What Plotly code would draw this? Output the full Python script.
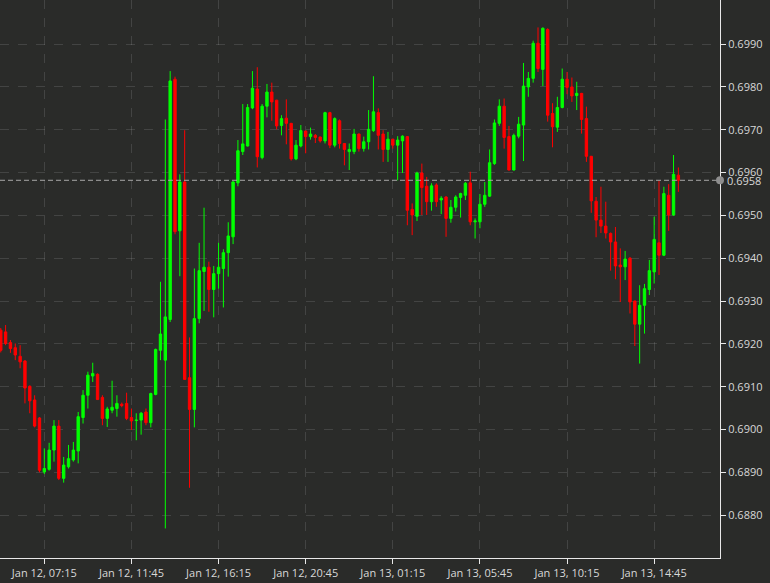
import pandas as pd
import plotly.graph_objects as go

# 15-minute candles, Jan 12 05:00 -> Jan 13 16:00
start_time = "2023-01-12 05:00"
n_candles = 141

open_ = [0.69232, 0.69228, 0.69203, 0.69191, 0.69171, 0.69160, 0.69101, 0.69069, 0.69027, 0.68901,
         0.68907, 0.68952, 0.69008, 0.68886, 0.68913, 0.68929, 0.68950, 0.69028, 0.69080, 0.69125,
         0.69129, 0.69075, 0.69026, 0.69045, 0.69049, 0.69059, 0.69061, 0.69028, 0.69021, 0.69022,
         0.69041, 0.69016, 0.69082, 0.69185, 0.69162, 0.69257, 0.69818, 0.69464, 0.69578, 0.69121,
         0.69047, 0.69259, 0.69369, 0.69379, 0.69327, 0.69364, 0.69376, 0.69413, 0.69450, 0.69576,
         0.69649, 0.69662, 0.69751, 0.69795, 0.69635, 0.69755, 0.69788, 0.69769, 0.69710, 0.69727,
         0.69715, 0.69632, 0.69662, 0.69697, 0.69684, 0.69687, 0.69683, 0.69674, 0.69740, 0.69664,
         0.69721, 0.69668, 0.69649, 0.69649, 0.69690, 0.69656, 0.69672, 0.69698, 0.69740, 0.69690,
         0.69654, 0.69678, 0.69664, 0.69674, 0.69684, 0.69514, 0.69498, 0.69599, 0.69568, 0.69532,
         0.69571, 0.69536, 0.69543, 0.69493, 0.69519, 0.69542, 0.69547, 0.69576, 0.69485, 0.69485,
         0.69526, 0.69545, 0.69621, 0.69715, 0.69755, 0.69684, 0.69606, 0.69685, 0.69711, 0.69800,
         0.69820, 0.69902, 0.69841, 0.69934, 0.69738, 0.69706, 0.69752, 0.69818, 0.69800, 0.69780,
         0.69785, 0.69726, 0.69638, 0.69533, 0.69489, 0.69475, 0.69458, 0.69438, 0.69384, 0.69380,
         0.69400, 0.69300, 0.69246, 0.69290, 0.69327, 0.69368, 0.69436, 0.69407, 0.69547, 0.69501,
         0.69594]
high = [0.69237, 0.69244, 0.69209, 0.69201, 0.69197, 0.69162, 0.69103, 0.69080, 0.69029, 0.68956,
        0.68969, 0.69022, 0.69022, 0.68936, 0.68964, 0.68971, 0.69041, 0.69092, 0.69135, 0.69156,
        0.69131, 0.69080, 0.69053, 0.69114, 0.69080, 0.69063, 0.69086, 0.69049, 0.69038, 0.69041,
        0.69049, 0.69086, 0.69189, 0.69345, 0.69724, 0.69837, 0.69824, 0.69596, 0.69699, 0.69215,
        0.69376, 0.69436, 0.69518, 0.69392, 0.69382, 0.69436, 0.69421, 0.69484, 0.69580, 0.69676,
        0.69760, 0.69760, 0.69837, 0.69846, 0.69760, 0.69807, 0.69810, 0.69770, 0.69734, 0.69771,
        0.69716, 0.69676, 0.69711, 0.69698, 0.69705, 0.69690, 0.69684, 0.69742, 0.69742, 0.69729,
        0.69724, 0.69669, 0.69668, 0.69702, 0.69691, 0.69684, 0.69746, 0.69825, 0.69750, 0.69699,
        0.69695, 0.69679, 0.69685, 0.69687, 0.69685, 0.69528, 0.69602, 0.69621, 0.69590, 0.69575,
        0.69575, 0.69545, 0.69545, 0.69536, 0.69547, 0.69553, 0.69578, 0.69602, 0.69493, 0.69550,
        0.69578, 0.69654, 0.69724, 0.69771, 0.69773, 0.69709, 0.69691, 0.69730, 0.69856, 0.69835,
        0.69908, 0.69939, 0.69939, 0.69937, 0.69762, 0.69777, 0.69843, 0.69835, 0.69822, 0.69812,
        0.69786, 0.69754, 0.69639, 0.69543, 0.69567, 0.69532, 0.69460, 0.69473, 0.69423, 0.69417,
        0.69403, 0.69301, 0.69337, 0.69340, 0.69396, 0.69497, 0.69581, 0.69567, 0.69573, 0.69641,
        0.69612]
low = [0.69180, 0.69197, 0.69179, 0.69162, 0.69143, 0.69061, 0.69038, 0.69005, 0.68900, 0.68896,
       0.68904, 0.68925, 0.68882, 0.68876, 0.68909, 0.68925, 0.68921, 0.69014, 0.69049, 0.69111,
       0.69069, 0.69010, 0.69006, 0.69038, 0.69030, 0.69052, 0.69022, 0.68999, 0.68975, 0.68988,
       0.69010, 0.69005, 0.69080, 0.69162, 0.68769, 0.69251, 0.69456, 0.69358, 0.69116, 0.68864,
       0.69005, 0.69248, 0.69277, 0.69275, 0.69262, 0.69329, 0.69285, 0.69357, 0.69433, 0.69568,
       0.69641, 0.69661, 0.69748, 0.69612, 0.69631, 0.69729, 0.69721, 0.69701, 0.69687, 0.69666,
       0.69628, 0.69629, 0.69659, 0.69645, 0.69677, 0.69669, 0.69670, 0.69668, 0.69657, 0.69659,
       0.69656, 0.69617, 0.69606, 0.69643, 0.69649, 0.69649, 0.69654, 0.69695, 0.69654, 0.69625,
       0.69625, 0.69656, 0.69582, 0.69599, 0.69477, 0.69454, 0.69487, 0.69501, 0.69501, 0.69511,
       0.69520, 0.69503, 0.69450, 0.69483, 0.69509, 0.69495, 0.69536, 0.69477, 0.69446, 0.69470,
       0.69520, 0.69543, 0.69618, 0.69709, 0.69656, 0.69605, 0.69605, 0.69680, 0.69627, 0.69777,
       0.69810, 0.69835, 0.69802, 0.69719, 0.69659, 0.69695, 0.69750, 0.69783, 0.69765, 0.69746,
       0.69691, 0.69625, 0.69506, 0.69449, 0.69459, 0.69446, 0.69371, 0.69351, 0.69298, 0.69349,
       0.69271, 0.69195, 0.69154, 0.69224, 0.69314, 0.69341, 0.69361, 0.69405, 0.69464, 0.69499,
       0.69555]
close = [0.69185, 0.69201, 0.69189, 0.69174, 0.69158, 0.69097, 0.69067, 0.69008, 0.68905, 0.68909,
         0.68952, 0.69008, 0.68886, 0.68917, 0.68932, 0.68952, 0.69030, 0.69080, 0.69127, 0.69131,
         0.69070, 0.69026, 0.69048, 0.69052, 0.69061, 0.69056, 0.69026, 0.69020, 0.69022, 0.69038,
         0.69016, 0.69084, 0.69187, 0.69223, 0.69263, 0.69814, 0.69462, 0.69578, 0.69117, 0.69047,
         0.69259, 0.69371, 0.69379, 0.69327, 0.69364, 0.69379, 0.69413, 0.69452, 0.69578, 0.69651,
         0.69667, 0.69752, 0.69797, 0.69637, 0.69755, 0.69788, 0.69765, 0.69709, 0.69726, 0.69715,
         0.69632, 0.69664, 0.69698, 0.69684, 0.69690, 0.69682, 0.69674, 0.69740, 0.69664, 0.69726,
         0.69668, 0.69654, 0.69654, 0.69690, 0.69656, 0.69672, 0.69701, 0.69742, 0.69687, 0.69654,
         0.69678, 0.69664, 0.69676, 0.69685, 0.69512, 0.69501, 0.69599, 0.69565, 0.69532, 0.69569,
         0.69532, 0.69540, 0.69493, 0.69519, 0.69543, 0.69551, 0.69575, 0.69485, 0.69487, 0.69526,
         0.69547, 0.69623, 0.69716, 0.69755, 0.69682, 0.69606, 0.69687, 0.69713, 0.69802, 0.69820,
         0.69902, 0.69843, 0.69937, 0.69734, 0.69707, 0.69752, 0.69818, 0.69799, 0.69779, 0.69785,
         0.69724, 0.69638, 0.69534, 0.69489, 0.69475, 0.69459, 0.69438, 0.69382, 0.69380, 0.69398,
         0.69298, 0.69246, 0.69290, 0.69329, 0.69371, 0.69444, 0.69407, 0.69551, 0.69501, 0.69596,
         0.69582]

last_price = 0.69582
last_label = "0.6958"

x_tick_vals = ["2023-01-12 07:15", "2023-01-12 11:45", "2023-01-12 16:15", "2023-01-12 20:45",
               "2023-01-13 01:15", "2023-01-13 05:45", "2023-01-13 10:15", "2023-01-13 14:45"]
y_tick_vals = [0.688, 0.689, 0.690, 0.691, 0.692, 0.693, 0.694, 0.695, 0.696, 0.697, 0.698, 0.699]
x_range = ["2023-01-12 04:57:40", "2023-01-13 18:09"]
y_range = [0.6870, 0.70003]

times = pd.date_range(start=start_time, periods=n_candles, freq="15min")

BG = "#2a2b29"
GRID = "rgba(255,255,255,0.12)"
AXIS = "#e8e8e8"
TXT = "#d8d8d8"
GREEN = "#00ff00"
RED = "#ff0000"

fig = go.Figure(go.Candlestick(
    x=times, open=open_, high=high, low=low, close=close,
    increasing=dict(line=dict(color=GREEN, width=1), fillcolor=GREEN),
    decreasing=dict(line=dict(color=RED, width=1), fillcolor=RED),
    whiskerwidth=0, showlegend=False, hoverinfo="skip",
))

fig.add_shape(type="line", xref="paper", x0=0, x1=1, yref="y", y0=last_price, y1=last_price,
              line=dict(color="#a8a8a8", width=1, dash="5px,3px"), layer="above")
fig.add_shape(type="circle", xref="paper", xsizemode="pixel", xanchor=1, x0=-4, x1=4,
              yref="y", ysizemode="pixel", yanchor=last_price, y0=-4, y1=4,
              fillcolor="#8e8e8e", line=dict(width=0), layer="above")
fig.add_annotation(xref="paper", x=1, yref="y", y=last_price, text=last_label, showarrow=False,
                   xanchor="left", yanchor="middle", xshift=5,
                   font=dict(family="Open Sans, sans-serif", size=11, color=TXT))

fig.update_layout(
    width=770, height=583,
    margin=dict(l=0, r=50, t=0, b=25),
    paper_bgcolor=BG, plot_bgcolor=BG,
    font=dict(family="Open Sans, sans-serif", size=11, color=TXT),
    hovermode=False,
    xaxis=dict(
        type="date", range=x_range, tickvals=x_tick_vals, tickformat="%b %d, %H:%M",
        showgrid=True, gridcolor=GRID, griddash="dash", gridwidth=1,
        showline=True, linecolor=AXIS, linewidth=1,
        ticks="outside", ticklen=5, tickcolor=AXIS, tickwidth=1,
        tickfont=dict(size=11, color=TXT), zeroline=False,
        rangeslider=dict(visible=False),
    ),
    yaxis=dict(
        side="right", range=y_range, tickvals=y_tick_vals, tickformat=".4f",
        showgrid=True, gridcolor=GRID, griddash="dash", gridwidth=1,
        showline=True, linecolor=AXIS, linewidth=1,
        ticks="outside", ticklen=5, tickcolor=AXIS, tickwidth=1,
        tickfont=dict(size=11, color=TXT), zeroline=False,
    ),
)

fig.write_html("out.html", config={"displayModeBar": False},
               post_script="document.body.style.margin='0';")
